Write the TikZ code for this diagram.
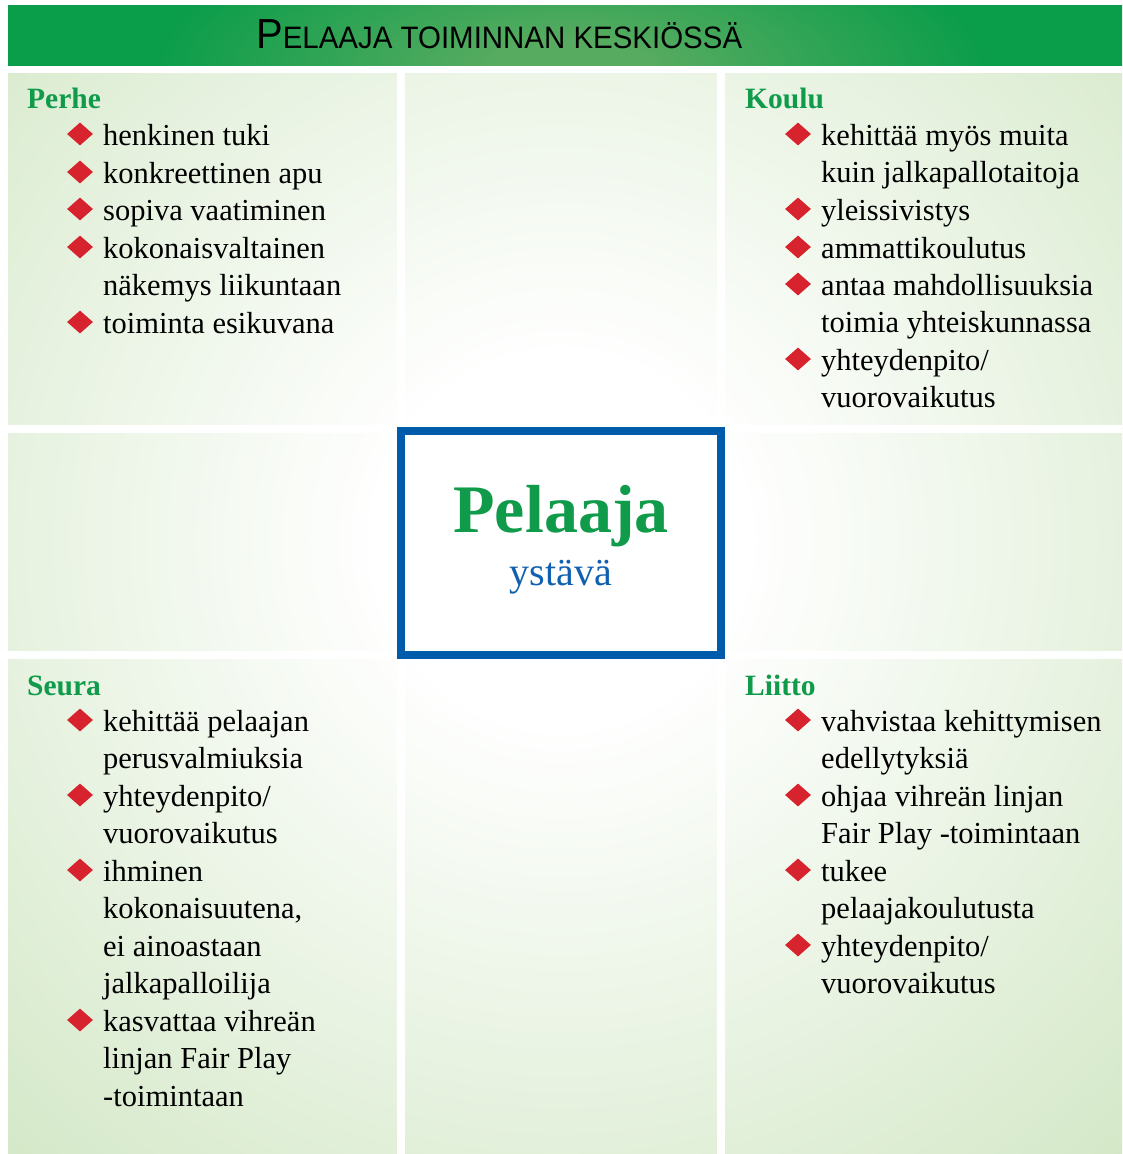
\documentclass[tikz,border=0pt]{standalone}
\usepackage{fontspec}
\setmainfont{Liberation Serif}
\newfontfamily\hdsans{Liberation Sans}
\usetikzlibrary{shapes.geometric}
\definecolor{headgreen}{RGB}{16,155,75}
\definecolor{titleblue}{RGB}{16,96,176}
\definecolor{boxblue}{RGB}{0,91,170}
\definecolor{bulletred}{RGB}{214,35,46}
\definecolor{bandgreen}{RGB}{10,157,74}
\definecolor{glowgreen}{RGB}{86,171,96}
\definecolor{cellgreen}{RGB}{210,231,197}
\pgfdeclareradialshading{bgshade}{\pgfpoint{0bp}{0bp}}{color(0bp)=(white); color(5bp)=(white); color(24bp)=(cellgreen); color(50bp)=(cellgreen)}
\pgfdeclareradialshading{glowshade}{\pgfpoint{0bp}{0bp}}{color(0bp)=(glowgreen); color(3bp)=(glowgreen); color(15bp)=(bandgreen); color(50bp)=(bandgreen)}
\tikzset{
  bodytext/.style={anchor=base west, inner sep=0pt, font=\fontsize{30.5}{37.5}\selectfont},
  sechead/.style={anchor=base west, inner sep=0pt, text=headgreen, font=\fontsize{29.5}{36}\selectfont\bfseries},
  bullet/.style={diamond, fill=bulletred, inner sep=0pt, minimum width=26pt, minimum height=23pt},
}
\newcommand\bitem[4]{%
  \node[bullet] (#1d) at (#2,#3-11) {};
  \node[bodytext] (#1) at (#2+23,#3) {\begin{tabular}[t]{@{}l@{}}#4\end{tabular}};}
\begin{document}
\begin{tikzpicture}[x=1pt,y=-1pt]
\useasboundingbox (0,0) rectangle (1122,1154);
\fill[white] (0,0) rectangle (1122,1154);
% header band
\begin{scope}
  \clip (8,5) rectangle (1122,65);
  \shade[shading=glowshade] (-130,-190) rectangle (1270,330);
\end{scope}
\node[anchor=base west, inner sep=0pt] (title) at (256,48)
  {\hdsans\scalebox{0.95}[1]{{\fontsize{42}{42}\selectfont P}{\fontsize{31}{31}\selectfont ELAAJA TOIMINNAN KESKIÖSSÄ}}};
% background cells
\begin{scope}
  \clip (8,73) rectangle (1122,1154);
  \shade[shading=bgshade] (-339,-360) rectangle (1461,1440);
\end{scope}
\fill[white] (397,73) rectangle (405,1154);
\fill[white] (717,73) rectangle (725,1154);
\fill[white] (8,425) rectangle (1122,433);
\fill[white] (8,651) rectangle (1122,659);
% centre box
\node[draw=boxblue, line width=8pt, fill=white, minimum width=320pt, minimum height=224pt, inner sep=0pt] (box) at (561,543) {};
\node[anchor=base, inner sep=0pt, text=headgreen, font=\fontsize{68}{68}\selectfont\bfseries] (pelaaja) at (561,532) {Pelaaja};
\node[anchor=base, inner sep=0pt, text=titleblue, font=\fontsize{40}{40}\selectfont] (ystava) at (561,585) {ystävä};
% Perhe
\node[sechead] (perhe) at (27,108) {Perhe};
\bitem{p1}{80}{145}{henkinen tuki}
\bitem{p2}{80}{183}{konkreettinen apu}
\bitem{p3}{80}{220}{sopiva vaatiminen}
\bitem{p4}{80}{258}{kokonaisvaltainen\\näkemys liikuntaan}
\bitem{p5}{80}{333}{toiminta esikuvana}
% Koulu
\node[sechead] (koulu) at (745,108) {Koulu};
\bitem{k1}{798}{145}{kehittää myös muita\\kuin jalkapallotaitoja}
\bitem{k2}{798}{220}{yleissivistys}
\bitem{k3}{798}{258}{ammattikoulutus}
\bitem{k4}{798}{295}{antaa mahdollisuuksia\\toimia yhteiskunnassa}
\bitem{k5}{798}{370}{yhteydenpito/\\vuorovaikutus}
% Seura
\node[sechead] (seura) at (27,695) {Seura};
\bitem{s1}{80}{731}{kehittää pelaajan\\perusvalmiuksia}
\bitem{s2}{80}{806}{yhteydenpito/\\vuorovaikutus}
\bitem{s3}{80}{881}{ihminen\\kokonaisuutena,\\ei ainoastaan\\jalkapalloilija}
\bitem{s4}{80}{1031}{kasvattaa vihreän\\linjan Fair Play\\-toimintaan}
% Liitto
\node[sechead] (liitto) at (745,695) {Liitto};
\bitem{l1}{798}{731}{vahvistaa kehittymisen\\edellytyksiä}
\bitem{l2}{798}{806}{ohjaa vihreän linjan\\Fair Play -toimintaan}
\bitem{l3}{798}{881}{tukee\\pelaajakoulutusta}
\bitem{l4}{798}{956}{yhteydenpito/\\vuorovaikutus}
\end{tikzpicture}
\end{document}
